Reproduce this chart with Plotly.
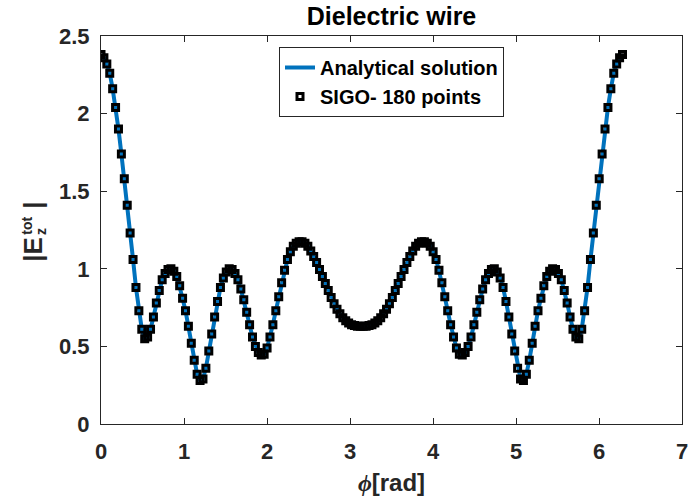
import numpy as np
import plotly.graph_objects as go

# Sampling angles: 180 points around the wire
n_points = 180
phi = np.linspace(0, 2 * np.pi, n_points)

# |Ez_tot| sampled at the 180 angles
e_tot = [
    2.38, 2.36, 2.32, 2.26, 2.16, 2.04, 1.90, 1.74, 1.58, 1.41,
    1.23, 1.06, 0.88, 0.73, 0.61, 0.55, 0.56, 0.61, 0.69, 0.78,
    0.86, 0.93, 0.97, 0.995, 1.00, 0.985, 0.95, 0.89, 0.81, 0.73,
    0.63, 0.52, 0.41, 0.32, 0.28, 0.29, 0.36, 0.47, 0.58, 0.69,
    0.79, 0.88, 0.94, 0.98, 1.00, 0.995, 0.97, 0.93, 0.87, 0.80,
    0.72, 0.64, 0.56, 0.50, 0.46, 0.445, 0.45, 0.49, 0.56, 0.64,
    0.73, 0.82, 0.91, 0.99, 1.06, 1.11, 1.145, 1.165, 1.175, 1.175,
    1.165, 1.145, 1.115, 1.08, 1.04, 0.995, 0.95, 0.905, 0.86, 0.815,
    0.775, 0.74, 0.71, 0.685, 0.665, 0.65, 0.64, 0.635, 0.63, 0.63,
    0.63, 0.63, 0.635, 0.64, 0.65, 0.665, 0.685, 0.71, 0.74, 0.775,
    0.815, 0.86, 0.905, 0.95, 0.995, 1.04, 1.08, 1.115, 1.145, 1.165,
    1.175, 1.175, 1.165, 1.145, 1.11, 1.06, 0.99, 0.91, 0.82, 0.73,
    0.64, 0.56, 0.49, 0.45, 0.445, 0.46, 0.50, 0.56, 0.64, 0.72,
    0.80, 0.87, 0.93, 0.97, 0.995, 1.00, 0.98, 0.94, 0.88, 0.79,
    0.69, 0.58, 0.47, 0.36, 0.29, 0.28, 0.32, 0.41, 0.52, 0.63,
    0.73, 0.81, 0.89, 0.95, 0.985, 1.00, 0.995, 0.97, 0.93, 0.86,
    0.78, 0.69, 0.61, 0.56, 0.55, 0.61, 0.73, 0.88, 1.06, 1.23,
    1.41, 1.58, 1.74, 1.90, 2.04, 2.16, 2.26, 2.32, 2.36, 2.38,
]

x_ticks = [0, 1, 2, 3, 4, 5, 6, 7]
y_ticks = [0, 0.5, 1, 1.5, 2, 2.5]
y_tick_text = ["0", "0.5", "1", "1.5", "2", "2.5"]

FONT = "Liberation Sans, Arial, sans-serif"
AX_COLOR = "#262626"

# plot area in pixels, used to place the stacked y-axis label
L, R, T, B = 101, 688, 36, 424


def px_x(px):
    return (px - L) / (R - L)


def px_y(py):
    return (B - py) / (B - T)


fig = go.Figure()
fig.add_trace(go.Scatter(
    x=phi, y=e_tot, mode="lines", name="Analytical solution",
    line=dict(color="#0072BD", width=4),
))
fig.add_trace(go.Scatter(
    x=phi, y=e_tot, mode="markers", name="SIGO- 180 points",
    marker=dict(symbol="square-open", size=6, color="black",
                line=dict(color="black", width=3)),
))

axis_common = dict(
    showline=True, linecolor=AX_COLOR, linewidth=1, mirror="ticks",
    ticks="inside", ticklen=6, tickcolor=AX_COLOR, tickwidth=1,
    showgrid=False, zeroline=False, ticklabeloverflow="allow",
    tickfont=dict(family=FONT, size=22, color=AX_COLOR, weight="bold"),
)

fig.update_xaxes(
    range=[0, 7], tickvals=x_ticks, ticklabelstandoff=8,
    title=dict(text="<i><span style='font-family:Liberation Serif'>ϕ</span></i>[rad]",
               font=dict(family=FONT, size=24, color=AX_COLOR, weight="bold"),
               standoff=10),
    **axis_common,
)
fig.update_yaxes(
    range=[0, 2.5], tickvals=y_ticks, ticktext=y_tick_text, ticklabelstandoff=6,
    **axis_common,
)

# y label |E_z^tot| with stacked sub/superscript
label_font = dict(family=FONT, color=AX_COLOR, weight="bold")
y_label_parts = [
    ("|E", 32, 249, 26),
    ("tot", 26, 226, 14),
    ("z", 40.5, 232, 14),
    ("|", 32, 205, 26),
]
for text, cx, cy, size in y_label_parts:
    fig.add_annotation(
        text=text, xref="paper", yref="paper", x=px_x(cx), y=px_y(cy),
        xanchor="center", yanchor="middle", textangle=-90, showarrow=False,
        font=dict(size=size, **label_font),
    )

fig.update_layout(
    width=692, height=500,
    margin=dict(l=L, r=692 - R, t=T, b=500 - B),
    paper_bgcolor="white", plot_bgcolor="white",
    title=dict(text="Dielectric wire", x=0.5, xref="paper",
               y=1 - 16 / 500, yref="container", yanchor="middle",
               font=dict(family=FONT, size=25, color="black", weight="bold")),
    legend=dict(
        x=0.5, xanchor="center", y=px_y(47), yanchor="top",
        bgcolor="white", bordercolor=AX_COLOR, borderwidth=1,
        font=dict(family=FONT, size=20, color="black", weight="bold"),
        itemwidth=30, tracegroupgap=0,
    ),
    showlegend=True,
)

fig.write_html("out.html")
